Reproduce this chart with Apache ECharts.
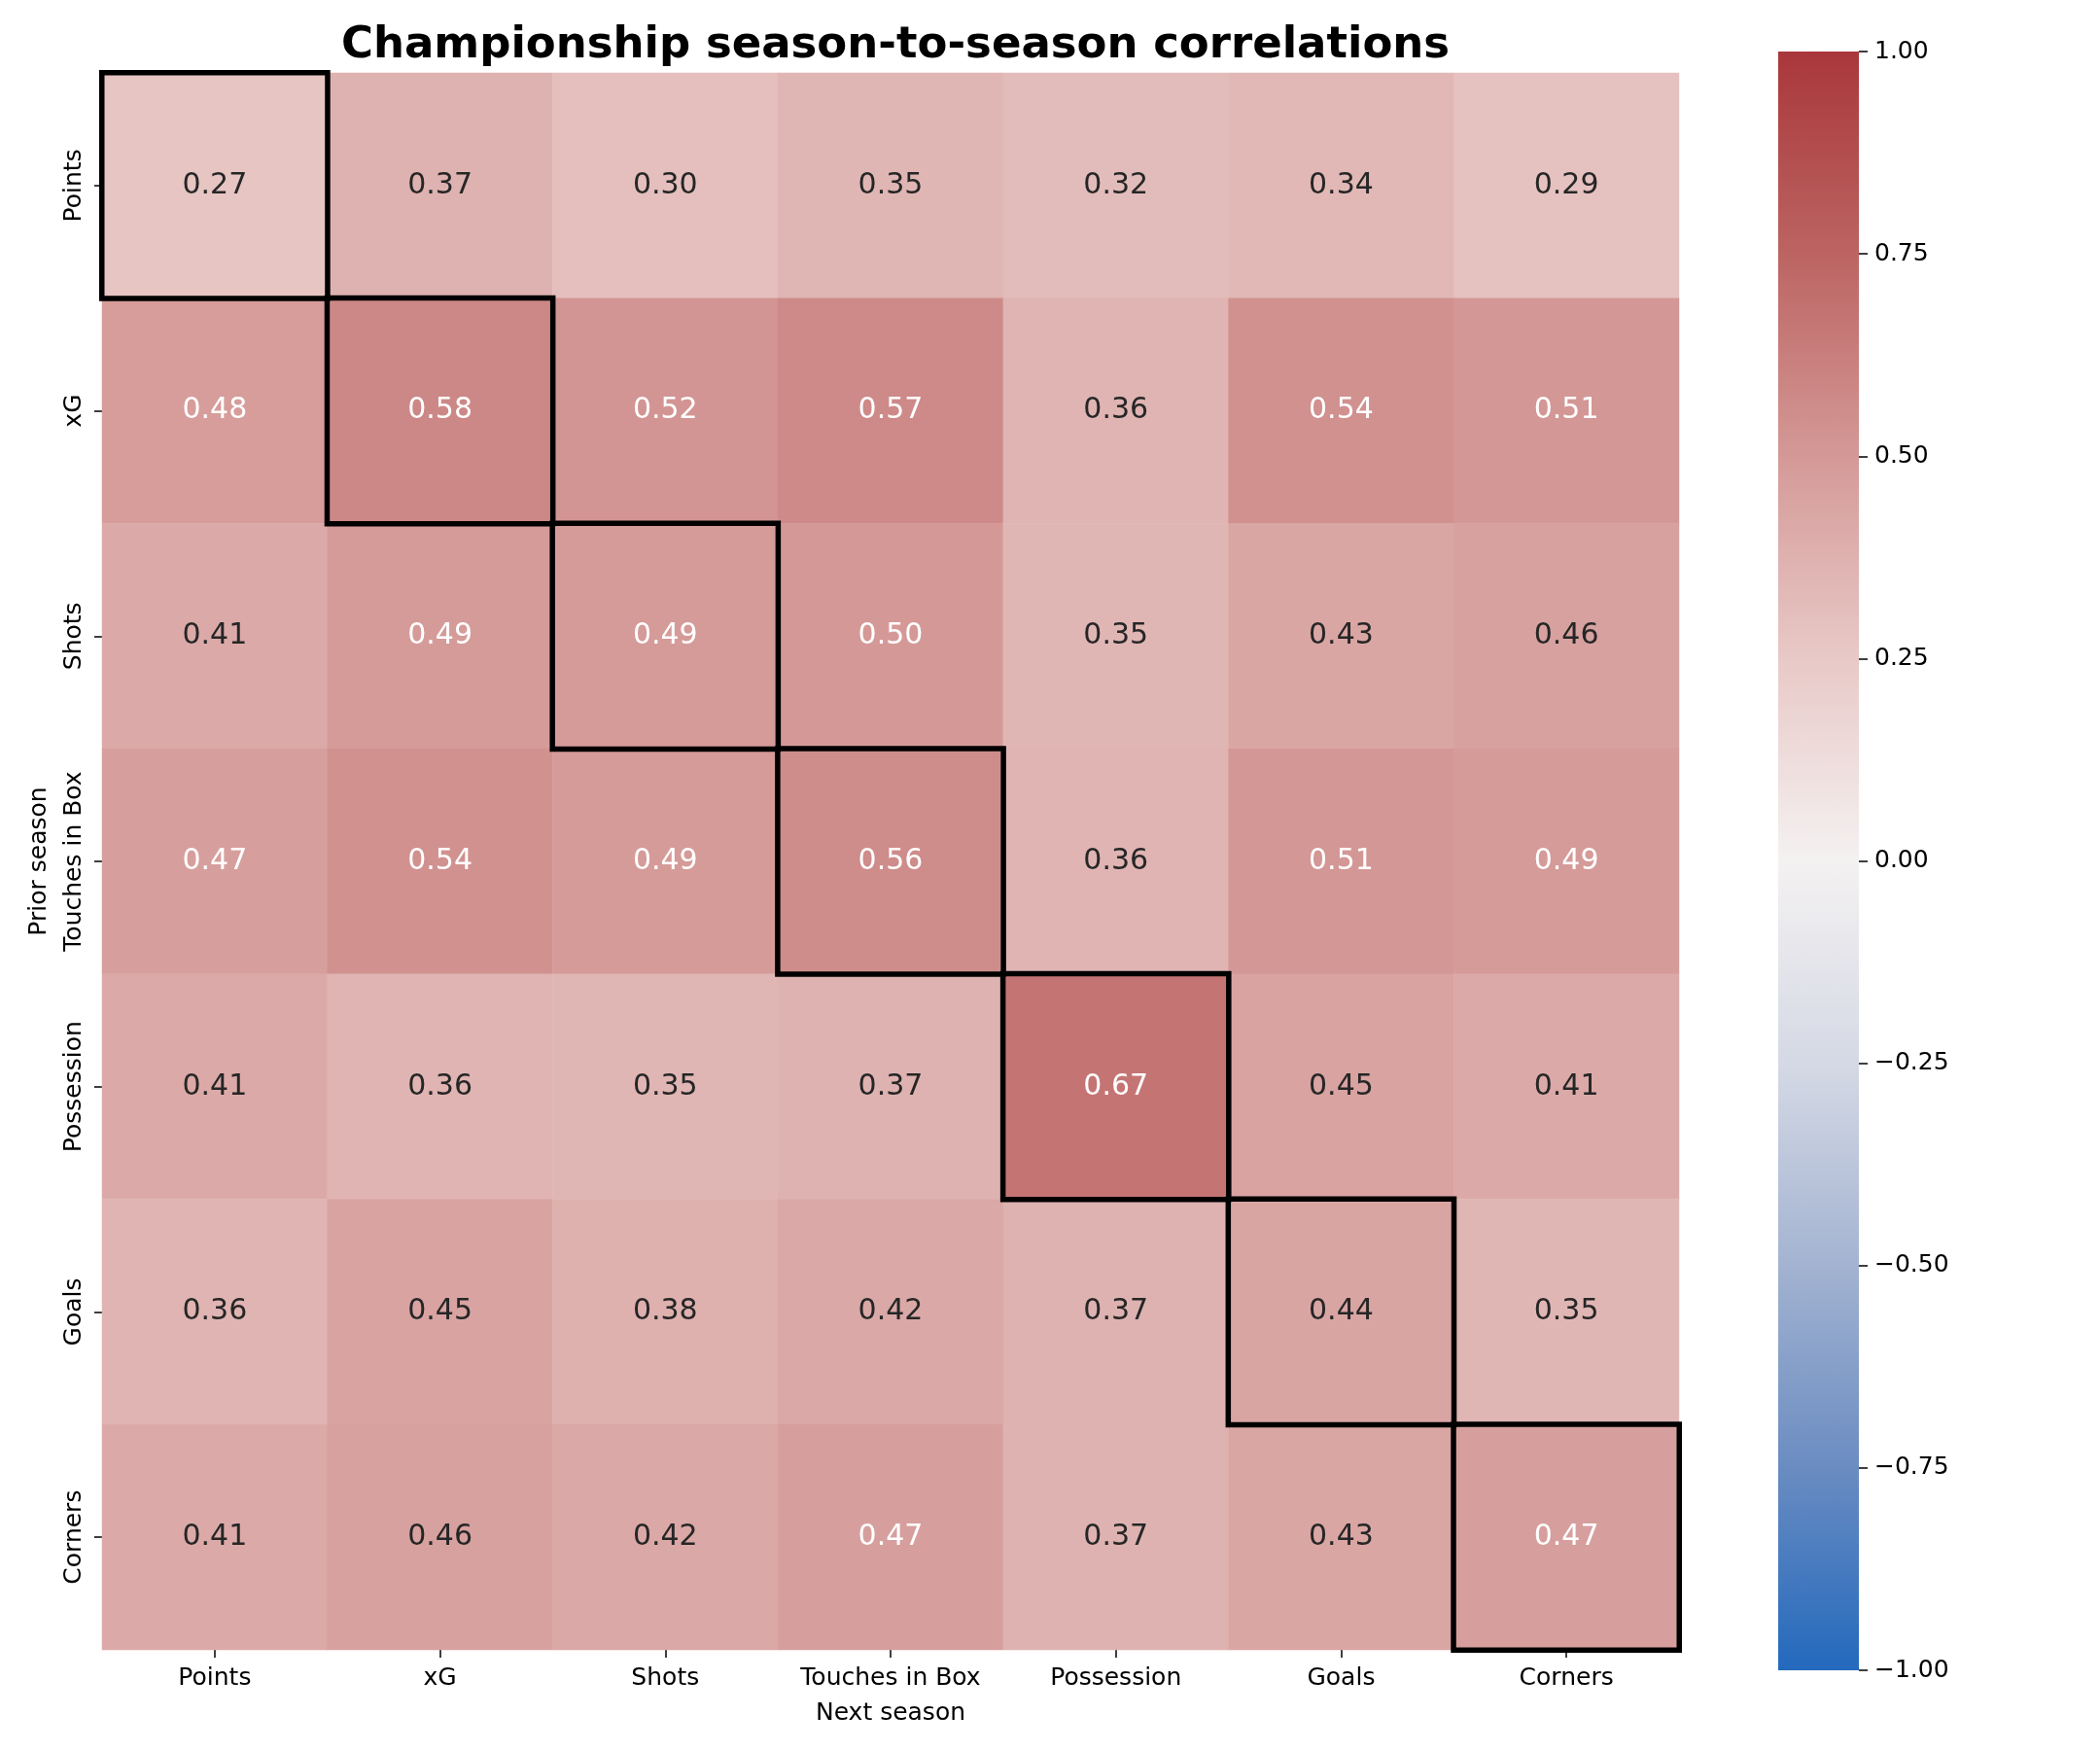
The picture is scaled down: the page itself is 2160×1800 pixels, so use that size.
<!DOCTYPE html>
<html>
<head>
<meta charset="utf-8">
<script src="https://cdn.jsdelivr.net/npm/echarts@6/dist/echarts.min.js"></script>
<style>
  html, body { margin: 0; padding: 0; background: #fff; }
  #chart { width: 2160px; height: 1800px; }
</style>
</head>
<body>
<div id="chart"></div>
<script>
const categories = ['Points', 'xG', 'Shots', 'Touches in Box', 'Possession', 'Goals', 'Corners'];
// rows = prior season, columns = next season
const rowPoints     = [0.27, 0.37, 0.30, 0.35, 0.32, 0.34, 0.29];
const rowXG         = [0.48, 0.58, 0.52, 0.57, 0.36, 0.54, 0.51];
const rowShots      = [0.41, 0.49, 0.49, 0.50, 0.35, 0.43, 0.46];
const rowTouches    = [0.47, 0.54, 0.49, 0.56, 0.36, 0.51, 0.49];
const rowPossession = [0.41, 0.36, 0.35, 0.37, 0.67, 0.45, 0.41];
const rowGoals      = [0.36, 0.45, 0.38, 0.42, 0.37, 0.44, 0.35];
const rowCorners    = [0.41, 0.46, 0.42, 0.47, 0.37, 0.43, 0.47];
const colorRange = [-1, 1];
// vlag-like palette, evenly spaced from -1 to 1
const palette = ['#2369BD', '#6A8CC1', '#A3B3D1', '#D5D9E5', '#F4F1F1',
                 '#E8C9C7', '#D49997', '#BC6462', '#A9373B'];

const rows = [rowPoints, rowXG, rowShots, rowTouches, rowPossession, rowGoals, rowCorners];
const cellData = [];
rows.forEach((row, r) => row.forEach((v, c) => {
  cellData.push({ value: [c, r, v], label: { color: v >= 0.47 ? '#ffffff' : '#262626' } });
}));
const diagData = rows.map((row, i) => [i, i, row[i]]);

const FONT = 'DejaVu Sans';
const chart = echarts.init(document.getElementById('chart'), null, { renderer: 'canvas' });

// gradient: top = max colour, bottom = min colour
const gradStops = palette.slice().reverse().map((c, i, a) => ({ offset: i / (a.length - 1), color: c }));

chart.setOption({
  backgroundColor: '#ffffff',
  animation: false,
  textStyle: { fontFamily: FONT },
  title: {
    text: 'Championship season-to-season correlations',
    left: 916, top: 20, textAlign: 'center',
    textStyle: { fontFamily: FONT, fontSize: 45, fontWeight: 'bold', color: '#000' }
  },
  grid: [
    { left: 105, top: 75, width: 1622, height: 1622 },
    { left: 1829, top: 53, width: 83, height: 1665 }
  ],
  xAxis: [
    {
      type: 'category', data: categories, gridIndex: 0,
      name: 'Next season', nameLocation: 'middle', nameGap: 53,
      nameTextStyle: { fontFamily: FONT, fontSize: 25, color: '#000' },
      axisLine: { show: false },
      axisTick: { show: true, alignWithLabel: true, interval: 0, length: 8, lineStyle: { color: '#000', width: 1.5 } },
      axisLabel: { fontFamily: FONT, fontSize: 25, color: '#000', margin: 17, interval: 0 },
      splitLine: { show: false }
    },
    { type: 'category', gridIndex: 1, show: false, data: ['cb'] }
  ],
  yAxis: [
    {
      type: 'category', data: categories, gridIndex: 0, inverse: true,
      name: 'Prior season', nameLocation: 'middle', nameGap: 52, nameRotate: 90,
      nameTextStyle: { fontFamily: FONT, fontSize: 25, color: '#000' },
      axisLine: { show: false },
      axisTick: { show: true, alignWithLabel: true, interval: 0, length: 8, lineStyle: { color: '#000', width: 1.5 } },
      axisLabel: { fontFamily: FONT, fontSize: 25, color: '#000', rotate: 90, margin: 16, interval: 0 },
      splitLine: { show: false }
    },
    {
      type: 'value', gridIndex: 1, position: 'right', min: colorRange[0], max: colorRange[1], interval: 0.25,
      axisLine: { show: false },
      splitLine: { show: false },
      axisTick: { show: true, length: 9, lineStyle: { color: '#000', width: 1.5 } },
      axisLabel: {
        fontFamily: FONT, fontSize: 25, color: '#000', margin: 16,
        formatter: v => (v < 0 ? '\u2212' : '') + Math.abs(v).toFixed(2)
      }
    }
  ],
  visualMap: {
    type: 'continuous', show: false, min: colorRange[0], max: colorRange[1], seriesIndex: 0,
    inRange: { color: palette }
  },
  series: [
    {
      type: 'heatmap', xAxisIndex: 0, yAxisIndex: 0, data: cellData,
      label: {
        show: true, fontFamily: FONT, fontSize: 30,
        formatter: p => p.value[2].toFixed(2)
      },
      itemStyle: { borderWidth: 0 },
      emphasis: { disabled: true }
    },
    {
      type: 'heatmap', xAxisIndex: 0, yAxisIndex: 0, data: diagData, z: 5,
      label: { show: false },
      itemStyle: { color: 'rgba(0,0,0,0)', borderColor: '#000', borderWidth: 5.5 },
      emphasis: { disabled: true }
    },
    {
      type: 'custom', xAxisIndex: 1, yAxisIndex: 1, silent: true,
      data: [[0, colorRange[0], colorRange[1]]],
      renderItem: (params, api) => {
        const top = api.coord([api.value(0), api.value(2)]);
        const bot = api.coord([api.value(0), api.value(1)]);
        const w = api.size([1, 0])[0];
        return {
          type: 'rect',
          shape: { x: top[0] - w / 2, y: top[1], width: w, height: bot[1] - top[1] },
          style: { fill: new echarts.graphic.LinearGradient(0, 0, 0, 1, gradStops) }
        };
      }
    }
  ]
});
</script>
</body>
</html>
